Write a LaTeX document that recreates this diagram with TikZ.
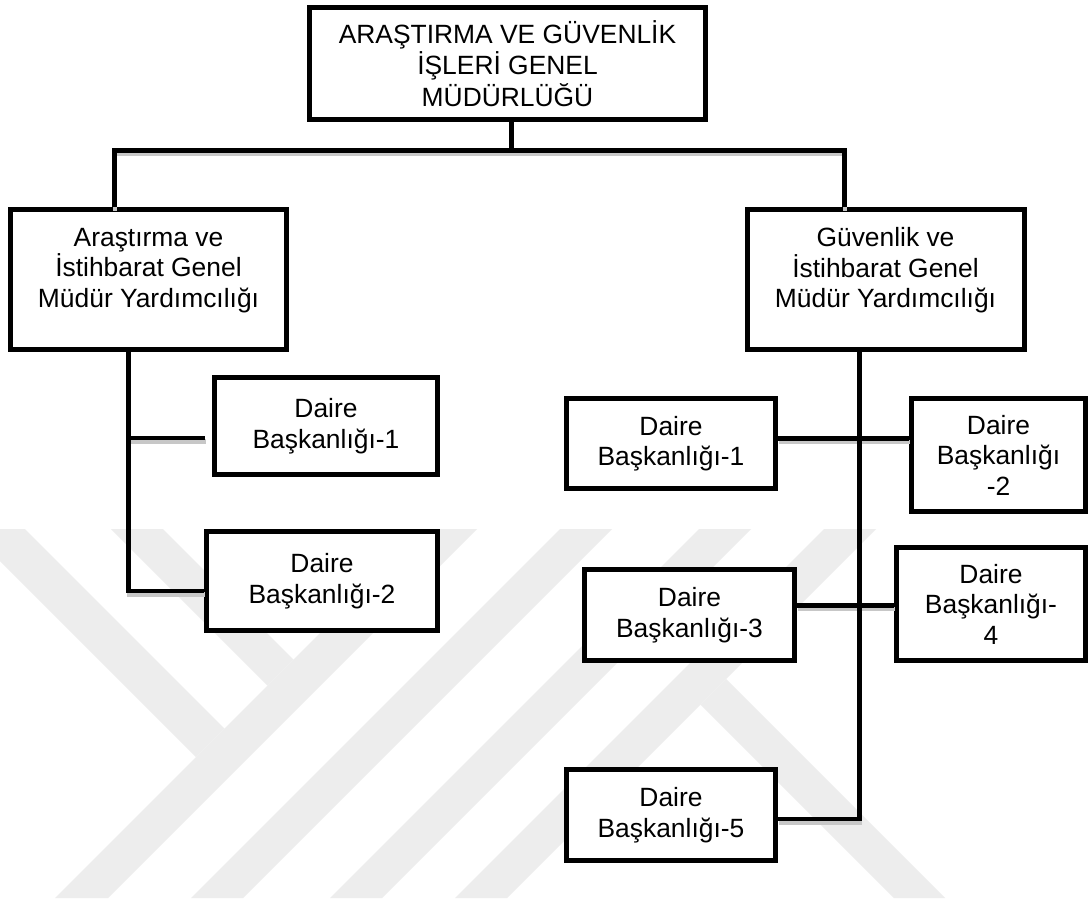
\documentclass[tikz,border=0pt]{standalone}
\usepackage{fontspec}
\setmainfont{Liberation Sans}
\tikzset{
  box/.style={draw=black, fill=white, line width=4.8pt, inner sep=0pt, align=center,
    font=\fontsize{26.4}{30.5}\selectfont},
  txt/.style={inner sep=0pt, align=center, font=\fontsize{26.4}{30.5}\selectfont},
  conn/.style={line width=4.8pt, draw=black},
  shadowconn/.style={line width=4.8pt, draw=black!22},
  wm/.style={fill=black!7},
}
\newcommand\myconnectors[1]{%
  \draw[#1] (top.south -| j0) -- (j0);
  \draw[#1] (jL |- gmyL.north) -- (jL) -- (jR) -- (jR |- gmyR.north);
  \draw[#1] (gmyL.south -| lv) -- (lv) -- (lv -| db2L.west);
  \draw[#1] (l1) -- (l1e);
  \draw[#1] (gmyR.south -| rv) -- (rv) -- (rv -| db5.east);
  \draw[#1] (r1 -| db1R.east) -- (r1 -| db2R.west);
  \draw[#1] (r2 -| db3.east) -- (r2 -| db4.west);
}
\begin{document}
\begin{tikzpicture}[x=1pt,y=-1pt]
\useasboundingbox (0,0) rectangle (1088,902);
\fill[white] (0,0) rectangle (1088,902);
% watermark
\begin{scope}
  \clip (0,529) rectangle (1088,898);
  \fill[wm] (55,898) -- (108,898) -- (477,529) -- (424,529) -- cycle;
  \fill[wm] (191,898) -- (243,898) -- (612,529) -- (560,529) -- cycle;
  \fill[wm] (330,898) -- (382,898) -- (751,529) -- (699,529) -- cycle;
  \fill[wm] (455,898) -- (507,898) -- (876,529) -- (824,529) -- cycle;
  \fill[wm] (-32,529) -- (25,529) -- (224.5,728.5) -- (196,757) -- cycle;
  \fill[wm] (111,529) -- (163,529) -- (293.5,659.5) -- (267.5,685.5) -- cycle;
  \fill[wm] (700.5,704.5) -- (726,679) -- (945,898) -- (894,898) -- cycle;
\end{scope}
% boxes
\node[box, minimum width=396.2pt, minimum height=112.2pt,
  font=\fontsize{26.4}{31.5}\selectfont] (top) at (507.5,63.5)
  {ARAŞTIRMA VE GÜVENLİK\\İŞLERİ GENEL\\MÜDÜRLÜĞÜ};
\node[box, minimum width=276.2pt, minimum height=140.2pt] (gmyL) at (148.5,279.5) {};
\node[txt] (gmyLt) at (148.5,270.5) {Araştırma ve\\İstihbarat Genel\\Müdür Yardımcılığı};
\node[box, minimum width=277.2pt, minimum height=140.2pt] (gmyR) at (886,279.5) {};
\node[txt] (gmyRt) at (885.5,270.5) {Güvenlik ve\\İstihbarat Genel\\Müdür Yardımcılığı};
\node[box, minimum width=223.2pt, minimum height=97.2pt] (db1L) at (326,426) {Daire\\Başkanlığı-1};
\node[box, minimum width=231.2pt, minimum height=99.2pt] (db2L) at (322,581) {Daire\\Başkanlığı-2};
\node[box, minimum width=209.2pt, minimum height=90.2pt] (db1R) at (671,443.5) {Daire\\Başkanlığı-1};
\node[box, minimum width=174.2pt, minimum height=113.2pt] (db2R) at (998.5,455) {Daire\\Başkanlığı\\-2};
\node[box, minimum width=210.2pt, minimum height=91.2pt] (db3) at (689.5,615) {Daire\\Başkanlığı-3};
\node[box, minimum width=189.2pt, minimum height=113.2pt] (db4) at (991,604) {Daire\\Başkanlığı-\\4};
\node[box, minimum width=209.2pt, minimum height=91.2pt] (db5) at (671,815) {Daire\\Başkanlığı-5};
% junction coordinates
\coordinate (j0) at (511.5,150.5);
\coordinate (jL) at (114.5,150.5);
\coordinate (jR) at (844.5,150.5);
\coordinate (lv) at (128.5,591);
\coordinate (l1) at (128.5,438);
\coordinate (l1e) at (205,438);
\coordinate (rv) at (859.5,819);
\coordinate (r1) at (859.5,438.5);
\coordinate (r2) at (859.5,605.5);
% connectors with shadow
\begin{scope}[transform canvas={shift={(0.5pt,-3.5pt)}}]
  \myconnectors{shadowconn}
\end{scope}
\myconnectors{conn}
\end{tikzpicture}
\end{document}
